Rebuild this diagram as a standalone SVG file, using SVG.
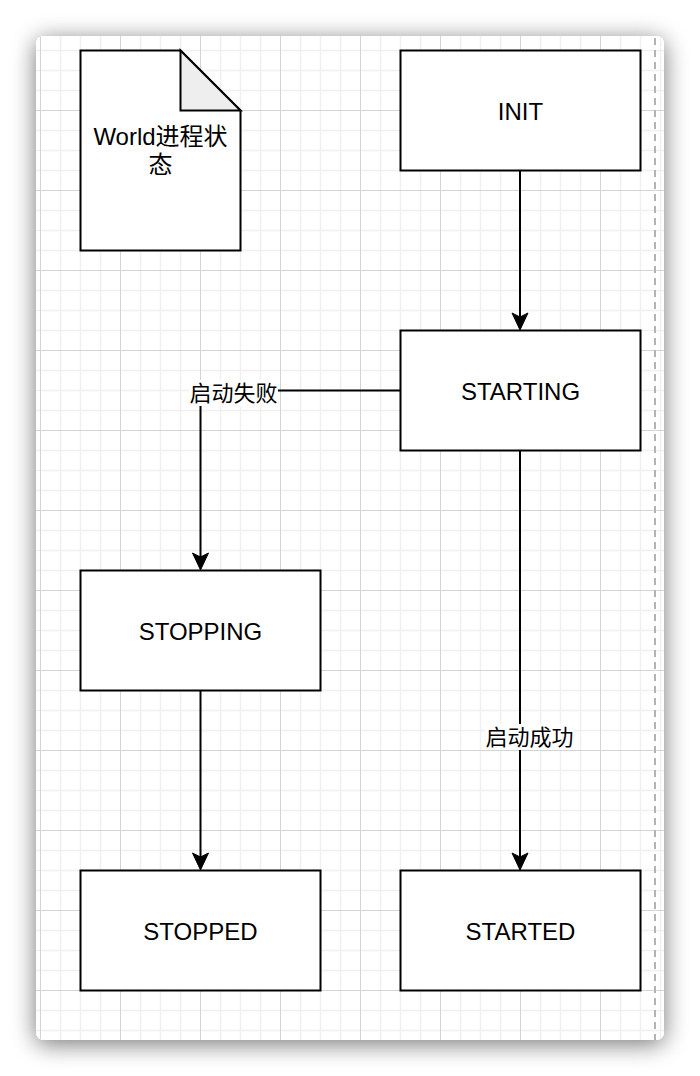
<svg xmlns="http://www.w3.org/2000/svg" width="700" height="1076" viewBox="0 0 700 1076">
  <style>
    .box { fill: #ffffff; stroke: #000000; stroke-width: 2; }
    .fold { fill: #eeeeee; stroke: #000000; stroke-width: 2; stroke-linejoin: miter; }
    .lbl { font-family: "Liberation Sans", Arial, "Noto Sans CJK SC", sans-serif; font-size: 24px; fill: #000000; text-anchor: middle; }
    .elbl { font-family: "Liberation Sans", Arial, "Noto Sans CJK SC", sans-serif; font-size: 22px; fill: #000000; text-anchor: middle; }
    .edge { fill: none; stroke: #000000; stroke-width: 2; marker-end: url(#arrow); }
    .lblbg { fill: #ffffff; }
  </style>
  <defs>
    <filter id="shadow" x="-20%" y="-20%" width="140%" height="140%">
      <feGaussianBlur in="SourceAlpha" stdDeviation="12"/>
      <feOffset dx="0" dy="4" result="b"/>
      <feComponentTransfer><feFuncA type="linear" slope="0.55"/></feComponentTransfer>
      <feMerge><feMergeNode/><feMergeNode in="SourceGraphic"/></feMerge>
    </filter>
    <pattern id="grid" patternUnits="userSpaceOnUse" x="40" y="30" width="80" height="80">
      <rect width="80" height="80" fill="#ffffff"/>
      <g stroke="#f0f0f0" stroke-width="1.5">
        <line x1="20.5" y1="0" x2="20.5" y2="80"/>
        <line x1="40.5" y1="0" x2="40.5" y2="80"/>
        <line x1="60.5" y1="0" x2="60.5" y2="80"/>
        <line x1="0" y1="20.5" x2="80" y2="20.5"/>
        <line x1="0" y1="40.5" x2="80" y2="40.5"/>
        <line x1="0" y1="60.5" x2="80" y2="60.5"/>
      </g>
      <g stroke="#d4d4d4" stroke-width="1">
        <line x1="0.5" y1="0" x2="0.5" y2="80"/>
        <line x1="0" y1="0.5" x2="80" y2="0.5"/>
      </g>
    </pattern>
    <marker id="arrow" markerUnits="userSpaceOnUse" viewBox="-6 -10 20 20" refX="0" refY="0" markerWidth="20" markerHeight="20" orient="auto">
      <path d="M12,0 L-5,-8 L-1,0 L-5,8 Z" fill="#000000" stroke="#000000" stroke-width="1" stroke-linejoin="miter"/>
    </marker>
  </defs>

  <rect x="0" y="0" width="700" height="1076" fill="#ffffff"/>
  <g id="card">
    <rect x="36" y="36" width="628" height="1004" rx="8" ry="8" fill="#ffffff" filter="url(#shadow)"/>
    <rect x="36" y="36" width="628" height="1004" rx="8" ry="8" fill="url(#grid)"/>
    <line x1="655" y1="38" x2="655" y2="1040" stroke="#b3b3b3" stroke-width="2" stroke-dasharray="7 5"/>
  </g>

  <g id="connectors">
    <line class="edge" x1="520" y1="171" x2="520" y2="318"/>
    <polyline class="edge" points="400,390.5 200.5,390.5 200.5,558"/>
    <line class="edge" x1="200.5" y1="691" x2="200.5" y2="858"/>
    <line class="edge" x1="520" y1="451" x2="520" y2="858"/>
    <rect class="lblbg" x="189" y="380" width="89" height="26"/>
    <text class="elbl" x="233.5" y="401">启动失败</text>
    <rect class="lblbg" x="485" y="724" width="89" height="26"/>
    <text class="elbl" x="529.5" y="745">启动成功</text>
  </g>

  <g id="note">
    <path class="box" d="M80.5,50.5 H180.5 L240.5,110.5 V250.5 H80.5 Z"/>
    <path class="fold" d="M180.5,50.5 V110.5 H240.5 Z"/>
    <text class="lbl" x="160.5" y="145">World进程状</text>
    <text class="lbl" x="160.5" y="173">态</text>
  </g>

  <g id="init">
    <rect class="box" x="400.5" y="50.5" width="240" height="120"/>
    <text class="lbl" x="520.5" y="119.5">INIT</text>
  </g>

  <g id="starting">
    <rect class="box" x="400.5" y="330.5" width="240" height="120"/>
    <text class="lbl" x="520.5" y="399.5">STARTING</text>
  </g>

  <g id="stopping">
    <rect class="box" x="80.5" y="570.5" width="240" height="120"/>
    <text class="lbl" x="200.5" y="639.5">STOPPING</text>
  </g>

  <g id="stopped">
    <rect class="box" x="80.5" y="870.5" width="240" height="120"/>
    <text class="lbl" x="200.5" y="939.5">STOPPED</text>
  </g>

  <g id="started">
    <rect class="box" x="400.5" y="870.5" width="240" height="120"/>
    <text class="lbl" x="520.5" y="939.5">STARTED</text>
  </g>
</svg>
